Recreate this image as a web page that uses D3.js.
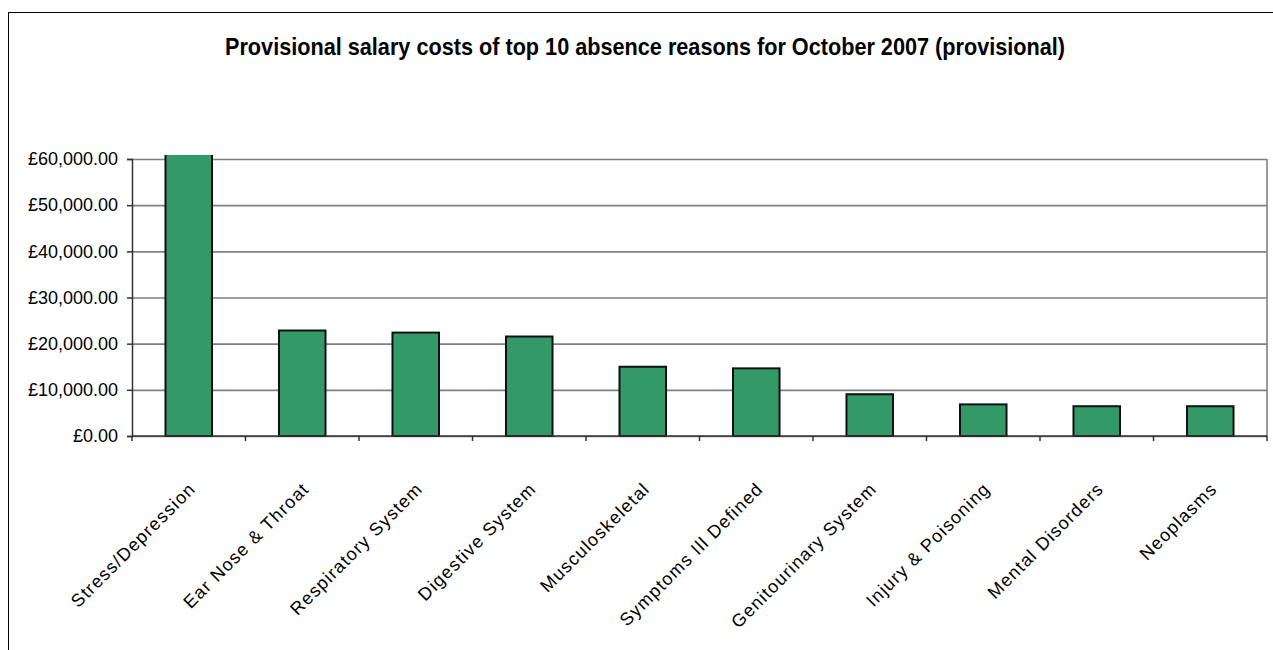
<!DOCTYPE html>
<html>
<head>
<meta charset="utf-8">
<script src="https://cdn.jsdelivr.net/npm/d3@7"></script>
<style>
  html, body { margin: 0; padding: 0; background: #fff; }
  svg { display: block; }
</style>
</head>
<body>
<svg id="chart" width="1273" height="650"></svg>
<script>
// Absence reasons and their salary costs (GBP)
const categories = [
  "Stress/Depression", "Ear Nose & Throat", "Respiratory System", "Digestive System",
  "Musculoskeletal", "Symptoms Ill Defined", "Genitourinary System", "Injury & Poisoning",
  "Mental Disorders", "Neoplasms"
];
const costs = [61500, 22850, 22400, 21550, 15000, 14650, 9050, 6850, 6450, 6450];
const yTicks = [0, 10000, 20000, 30000, 40000, 50000, 60000];
const titleText = "Provisional salary costs of top 10 absence reasons for October 2007 (provisional)";

const svg = d3.select("#chart");
const font = "'Liberation Sans', Arial, sans-serif";

const plot = { left: 132, right: 1267, top: 159, bottom: 436 };

const x = d3.scaleBand()
  .domain(categories)
  .range([plot.left, plot.right])
  .paddingInner(0.59)
  .paddingOuter(0.295);

const y = d3.scaleLinear()
  .domain([0, 60000])
  .range([plot.bottom, plot.top]);

const fmt = v => "£" + d3.format(",.2f")(v);

// Chart frame
svg.append("rect")
  .attr("x", 8.5).attr("y", 12.5)
  .attr("width", 1400).attr("height", 800)
  .attr("fill", "none").attr("stroke", "#000").attr("stroke-width", 1);

// Title
svg.append("text")
  .attr("x", 225).attr("y", 55)
  .attr("textLength", 840)
  .attr("lengthAdjust", "spacingAndGlyphs")
  .style("font-family", font)
  .style("font-weight", "bold")
  .style("font-size", "24px")
  .attr("fill", "#000")
  .text(titleText);

// Horizontal gridlines
svg.append("g")
  .attr("transform", `translate(${plot.left},0)`)
  .call(d3.axisLeft(y).tickValues(yTicks).tickSize(-(plot.right - plot.left)).tickFormat(""))
  .call(g => g.select(".domain").remove())
  .call(g => g.selectAll(".tick line").attr("stroke", "#808080").attr("stroke-width", 1.6));

// Right edge of plot area
svg.append("line")
  .attr("x1", plot.right).attr("x2", plot.right)
  .attr("y1", plot.top).attr("y2", plot.bottom)
  .attr("stroke", "#808080").attr("stroke-width", 1.6);

// Bars (clipped a little above the plot area)
svg.append("clipPath").attr("id", "barClip")
  .append("rect")
  .attr("x", plot.left).attr("y", plot.top - 4)
  .attr("width", plot.right - plot.left).attr("height", plot.bottom - plot.top + 8);

svg.append("g")
  .attr("clip-path", "url(#barClip)")
  .selectAll("rect")
  .data(categories)
  .join("rect")
  .attr("x", d => x(d))
  .attr("y", (d, i) => y(costs[i]))
  .attr("width", x.bandwidth())
  .attr("height", (d, i) => y(0) - y(costs[i]))
  .attr("fill", "#339966")
  .attr("stroke", "#111")
  .attr("stroke-width", 2);

// Y axis with currency labels
svg.append("g")
  .attr("transform", `translate(${plot.left},0)`)
  .call(d3.axisLeft(y).tickValues(yTicks).tickSize(5).tickPadding(9).tickFormat(fmt))
  .call(g => g.select(".domain").attr("stroke", "#333").attr("stroke-width", 1.5))
  .call(g => g.selectAll(".tick line").attr("stroke", "#333").attr("stroke-width", 1.5))
  .call(g => g.selectAll(".tick text")
    .style("font-family", font).style("font-size", "18px").attr("fill", "#000"));

// X axis line and category divider ticks
const step = x.step();
const dividers = d3.range(categories.length + 1).map(i => plot.left + i * step);
svg.append("line")
  .attr("x1", plot.left).attr("x2", plot.right)
  .attr("y1", plot.bottom).attr("y2", plot.bottom)
  .attr("stroke", "#333").attr("stroke-width", 1.5);
svg.append("g").selectAll("line")
  .data(dividers)
  .join("line")
  .attr("x1", d => d).attr("x2", d => d)
  .attr("y1", plot.bottom).attr("y2", plot.bottom + 5)
  .attr("stroke", "#333").attr("stroke-width", 1.5);

// Rotated category labels, cut off near the axis
svg.append("clipPath").attr("id", "labelClip")
  .append("rect")
  .attr("x", 0).attr("y", 481).attr("width", 1273).attr("height", 200);

svg.append("g")
  .attr("clip-path", "url(#labelClip)")
  .selectAll("text")
  .data(categories)
  .join("text")
  .attr("transform", d => `translate(${x(d) + x.bandwidth() / 2 + 8},490) rotate(-45)`)
  .attr("text-anchor", "end")
  .style("font-family", font)
  .style("font-size", "18px")
  .style("letter-spacing", "1.2px")
  .attr("fill", "#000")
  .text(d => d);
</script>
</body>
</html>
